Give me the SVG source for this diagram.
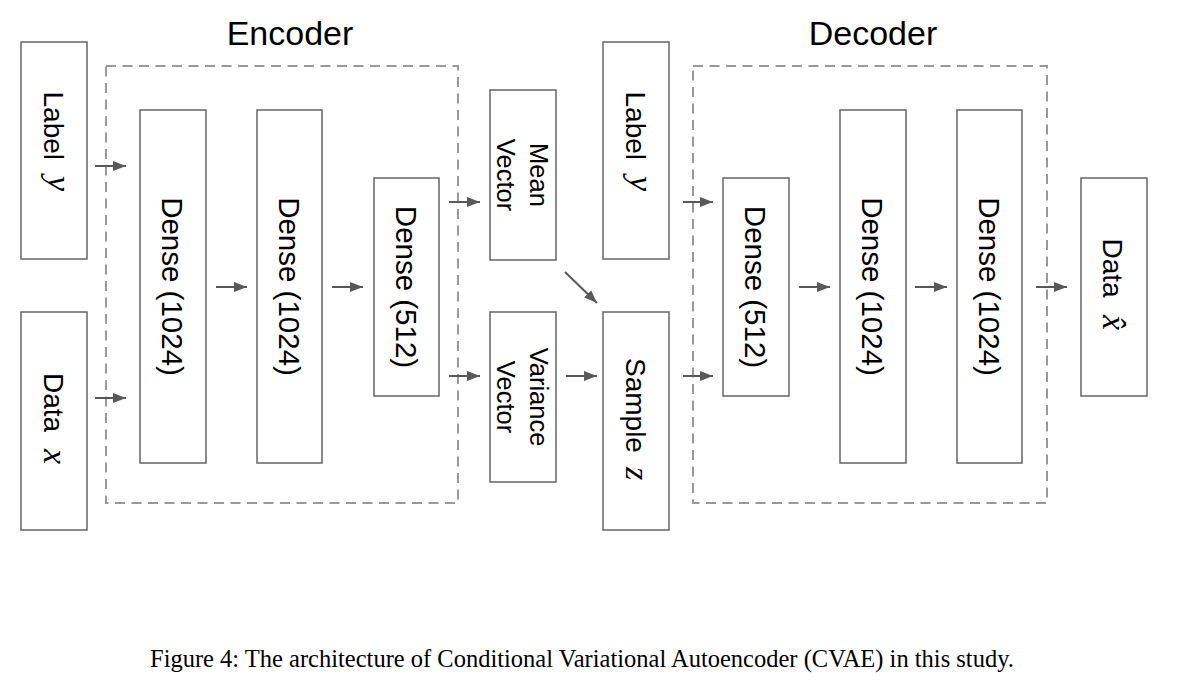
<svg xmlns="http://www.w3.org/2000/svg" width="1200" height="687" viewBox="0 0 1200 687">
<style>
.box{fill:#fff;stroke:#666;stroke-width:1.5}
.dash{fill:none;stroke:#999;stroke-width:2;stroke-dasharray:10 6.5}
.t{font-family:"Liberation Sans",Arial,sans-serif;fill:#000}
.m{font-family:"Liberation Serif","Times New Roman",serif;font-style:italic;fill:#000}
.title{font-family:"Liberation Sans",Arial,sans-serif;font-size:34px;fill:#000;text-anchor:middle}
.cap{font-family:"Liberation Serif","Times New Roman",serif;font-size:24.5px;fill:#000;text-anchor:middle}
.arr{stroke:#595959;stroke-width:2;fill:none;marker-end:url(#ah)}
</style>
<defs>
<marker id="ah" markerUnits="userSpaceOnUse" markerWidth="14" markerHeight="11" refX="13" refY="5.5" orient="auto">
<path d="M0,0.5 L13,5.5 L0,10.5 z" fill="#595959"/>
</marker>
</defs>
<rect width="1200" height="687" fill="#fff"/>

<g id="encoder-group">
<rect class="dash" x="106" y="66" width="352" height="437"/>
<text class="title" x="290" y="45">Encoder</text>
</g>
<g id="decoder-group">
<rect class="dash" x="693" y="66" width="354" height="437"/>
<text class="title" x="873" y="45">Decoder</text>
</g>

<g id="label-in">
<rect class="box" x="21" y="42" width="66" height="217"/>
<g transform="translate(54,150) rotate(90)">
<text class="t" font-size="28" x="-58.5" y="10.5">Label</text>
<text class="m" font-size="34" x="26" y="6">y</text>
</g>
</g>
<g id="data-in">
<rect class="box" x="21" y="312" width="66" height="218"/>
<g transform="translate(54,421) rotate(90)">
<text class="t" font-size="28" x="-48" y="10.5">Data</text>
<text class="m" font-size="34" x="28" y="10.5">x</text>
</g>
</g>

<g id="enc-dense1">
<rect class="box" x="140" y="110" width="66" height="353"/>
<text class="t" font-size="29.5" text-anchor="middle" transform="translate(173,286.5) rotate(90)" y="11">Dense (1024)</text>
</g>
<g id="enc-dense2">
<rect class="box" x="257" y="110" width="65" height="353"/>
<text class="t" font-size="29.5" text-anchor="middle" transform="translate(289.5,286.5) rotate(90)" y="11">Dense (1024)</text>
</g>
<g id="enc-dense3">
<rect class="box" x="374" y="178" width="65" height="218"/>
<text class="t" font-size="29.5" text-anchor="middle" transform="translate(406.5,287) rotate(90)" y="11">Dense (512)</text>
</g>

<g id="mean-vector">
<rect class="box" x="490" y="90" width="66" height="170"/>
<g transform="translate(523,175) rotate(90)">
<text class="t" font-size="25.5" text-anchor="middle" x="0" y="-7">Mean</text>
<text class="t" font-size="25.5" text-anchor="middle" x="0" y="26">Vector</text>
</g>
</g>
<g id="variance-vector">
<rect class="box" x="490" y="312" width="66" height="170"/>
<g transform="translate(523,397) rotate(90)">
<text class="t" font-size="25.5" text-anchor="middle" x="0" y="-7">Variance</text>
<text class="t" font-size="25.5" text-anchor="middle" x="0" y="26">Vector</text>
</g>
</g>

<g id="label-dec">
<rect class="box" x="603" y="42" width="66" height="217"/>
<g transform="translate(636,150) rotate(90)">
<text class="t" font-size="28" x="-58.5" y="10.5">Label</text>
<text class="m" font-size="34" x="26" y="6">y</text>
</g>
</g>
<g id="sample-z">
<rect class="box" x="603" y="312" width="66" height="218"/>
<g transform="translate(636,421) rotate(90)">
<text class="t" font-size="28" x="-63" y="10.5">Sample</text>
<text class="m" font-size="34" x="46" y="10.5">z</text>
</g>
</g>

<g id="dec-dense1">
<rect class="box" x="723" y="178" width="66" height="218"/>
<text class="t" font-size="29.5" text-anchor="middle" transform="translate(756,287) rotate(90)" y="11">Dense (512)</text>
</g>
<g id="dec-dense2">
<rect class="box" x="840" y="110" width="66" height="353"/>
<text class="t" font-size="29.5" text-anchor="middle" transform="translate(873,286.5) rotate(90)" y="11">Dense (1024)</text>
</g>
<g id="dec-dense3">
<rect class="box" x="957" y="110" width="65" height="353"/>
<text class="t" font-size="29.5" text-anchor="middle" transform="translate(989.5,286.5) rotate(90)" y="11">Dense (1024)</text>
</g>

<g id="data-out">
<rect class="box" x="1081" y="178" width="66" height="218"/>
<g transform="translate(1114,287) rotate(90)">
<text class="t" font-size="28" x="-48.5" y="11">Data</text>
<text class="m" font-size="34" x="28" y="11">x̂</text>
</g>
</g>

<g id="connectors">
<line class="arr" x1="95" y1="166" x2="126" y2="166"/>
<line class="arr" x1="95" y1="398" x2="126" y2="398"/>
<line class="arr" x1="216" y1="287" x2="247" y2="287"/>
<line class="arr" x1="332" y1="287" x2="363" y2="287"/>
<line class="arr" x1="449" y1="202" x2="480" y2="202"/>
<line class="arr" x1="449" y1="376" x2="480" y2="376"/>
<line class="arr" x1="565" y1="272" x2="597" y2="303"/>
<line class="arr" x1="566" y1="376" x2="597" y2="376"/>
<line class="arr" x1="683" y1="202" x2="713" y2="202"/>
<line class="arr" x1="683" y1="376" x2="713" y2="376"/>
<line class="arr" x1="799" y1="287" x2="830" y2="287"/>
<line class="arr" x1="915" y1="287" x2="947" y2="287"/>
<line class="arr" x1="1036" y1="287" x2="1067" y2="287"/>
</g>

<text class="cap" x="582" y="667">Figure 4: The architecture of Conditional Variational Autoencoder (CVAE) in this study.</text>
</svg>
